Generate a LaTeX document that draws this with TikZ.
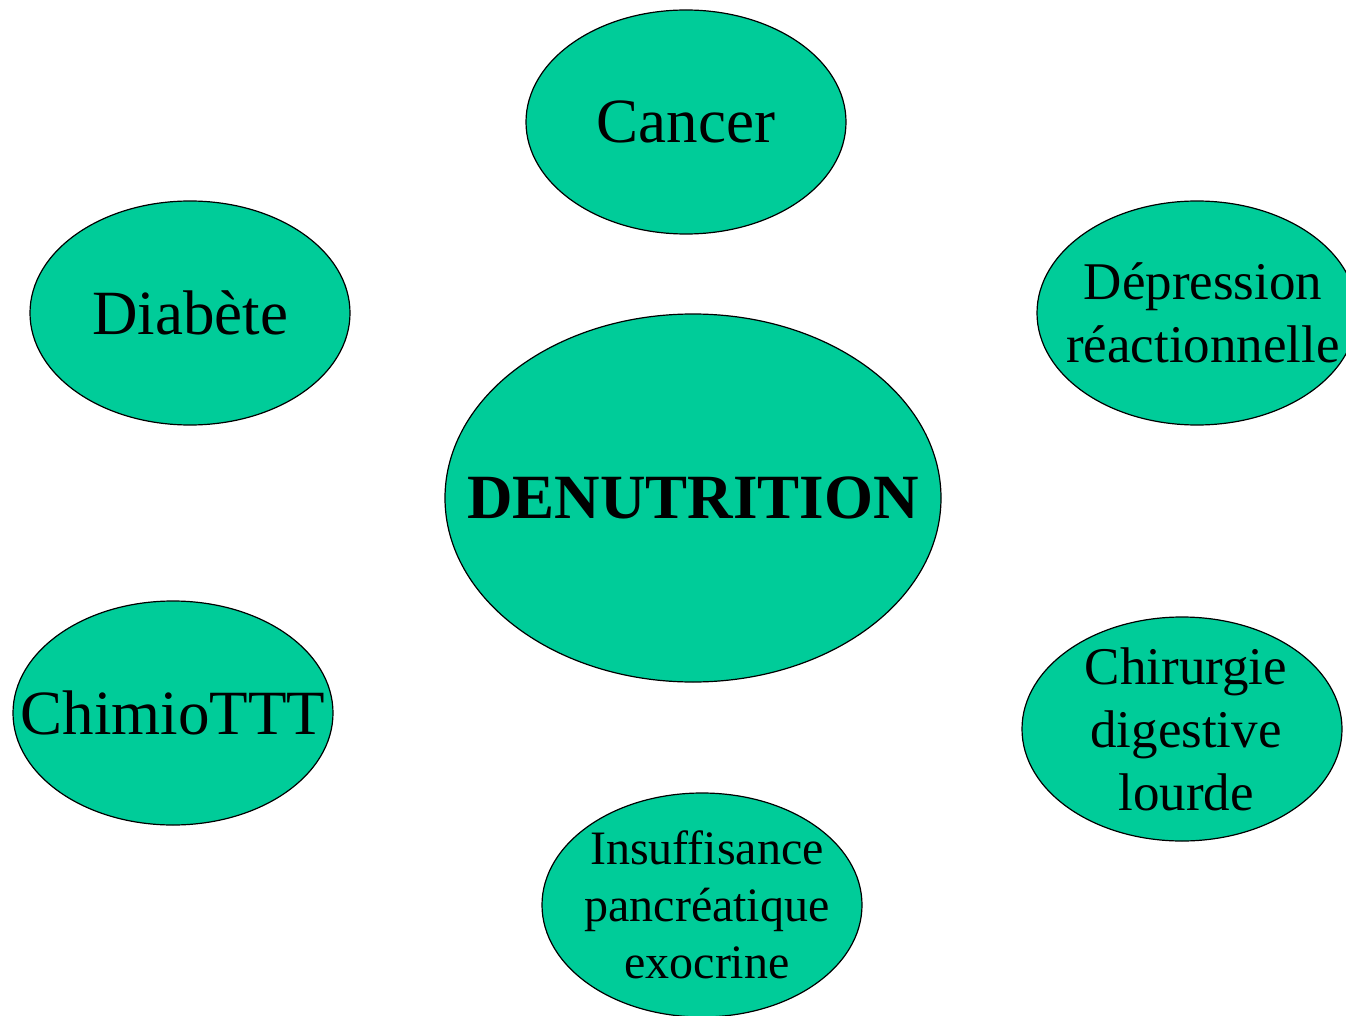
\documentclass[tikz,border=0pt]{standalone}
\usepackage{fontspec}
\setmainfont{Liberation Serif}
\usetikzlibrary{shapes.geometric}
\definecolor{causegreen}{HTML}{00CC99}
\tikzset{
  cause/.style={ellipse,draw=black,line width=1.2pt,fill=causegreen,inner sep=0pt,
    minimum width=320pt,minimum height=224pt},
  causetext/.style={inner sep=0pt,align=center,font=\fontsize{63}{63}\selectfont},
  smalltext/.style={causetext,font=\fontsize{53}{63}\selectfont},
  tinytext/.style={causetext,font=\fontsize{48}{57}\selectfont}
}
\begin{document}
\begin{tikzpicture}[x=1pt,y=-1pt]
  \useasboundingbox (0,0) rectangle (1346,1016);
  \clip (0,0) rectangle (1346,1016);

  % The centre
  \node [cause,minimum width=496pt,minimum height=368pt] (denut) at (693,498) {};
  \node [causetext] (denuttext) at (denut) {\textbf{DENUTRITION}};

  % The causes around it
  \node [cause] (cancer) at (686,122) {};
  \node [cause] (diabete) at (190,313) {};
  \node [cause] (chimio) at (173,713) {};
  \node [cause] (depression) at (1197,313) {};
  \node [cause] (chirurgie) at (1182,729) {};
  \node [cause] (insuff) at (702,905) {};

  % Their texts
  \node [causetext] (cancertext) at (cancer) {Cancer};
  \node [causetext] (diabetetext) at (diabete) {Diabète};
  \node [causetext] (chimiotext) at (chimio) {ChimioTTT};
  \node [smalltext,xshift=6pt] (depressiontext) at (depression) {Dépression\\ réactionnelle};
  \node [smalltext,xshift=4pt] (chirurgietext) at (chirurgie) {Chirurgie\\ digestive\\ lourde};
  \node [tinytext,xshift=5pt] (insufftext) at (insuff) {Insuffisance\\ pancréatique\\ exocrine};
\end{tikzpicture}
\end{document}
